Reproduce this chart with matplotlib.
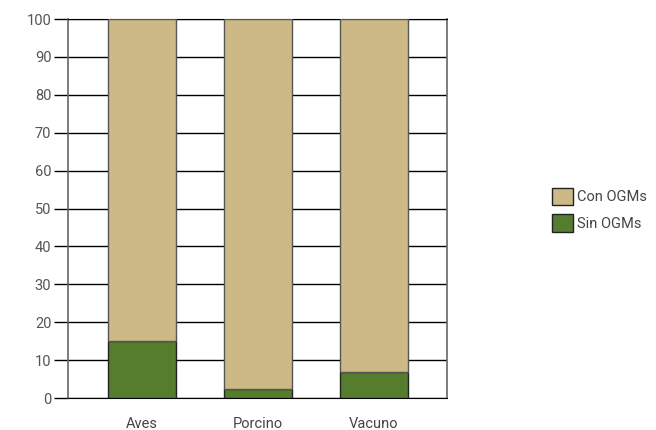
import matplotlib.pyplot as plt
from matplotlib.patches import Patch

categorias = ["Aves", "Porcino", "Vacuno"]
sin_ogm = [15, 2.4, 6.9]
con_ogm = [100 - v for v in sin_ogm]

color_con = "#cdb985"
color_sin = "#567d2e"

plt.rcParams["font.family"] = ["Roboto", "DejaVu Sans"]

fig = plt.figure(figsize=(6.56, 4.3), dpi=100)
ax = fig.add_axes([0.1037, 0.0744, 0.5777, 0.8814])

x = range(len(categorias))
ax.bar(x, sin_ogm, width=0.586, color=color_sin, edgecolor="#222222",
       linewidth=1, zorder=3)
ax.bar(x, con_ogm, bottom=sin_ogm, width=0.586, color=color_con,
       edgecolor="#555555", linewidth=1, zorder=3)

ax.set_xlim(-0.638, 2.629)
ax.set_ylim(0, 100)
ax.set_yticks(range(0, 101, 10))
ax.set_xticks(list(x))
ax.set_xticklabels(categorias)

# rejilla horizontal negra
ax.yaxis.grid(True, color="black", linewidth=1, zorder=1)
ax.set_axisbelow(True)

for lado in ["left", "right"]:
    ax.spines[lado].set_color("#666666")
    ax.spines[lado].set_linewidth(1.2)
ax.spines["top"].set_color("black")
ax.spines["bottom"].set_color("black")

ax.tick_params(axis="y", length=10, width=1, color="black",
               labelsize=10.5, labelcolor="#555555", pad=2)
ax.tick_params(axis="x", length=0, labelsize=10.5, labelcolor="#444444", pad=14)

handles = [Patch(facecolor=color_con, edgecolor="#222222", label="Con OGMs"),
           Patch(facecolor=color_sin, edgecolor="#222222", label="Sin OGMs")]
fig.legend(handles=handles, loc="center left", bbox_to_anchor=(0.822, 0.512),
           frameon=False, fontsize=10.5, handlelength=1.4, handleheight=1.5,
           handletextpad=0.3, labelcolor="#444444", labelspacing=0.6)

plt.savefig("out.png", dpi=100)
